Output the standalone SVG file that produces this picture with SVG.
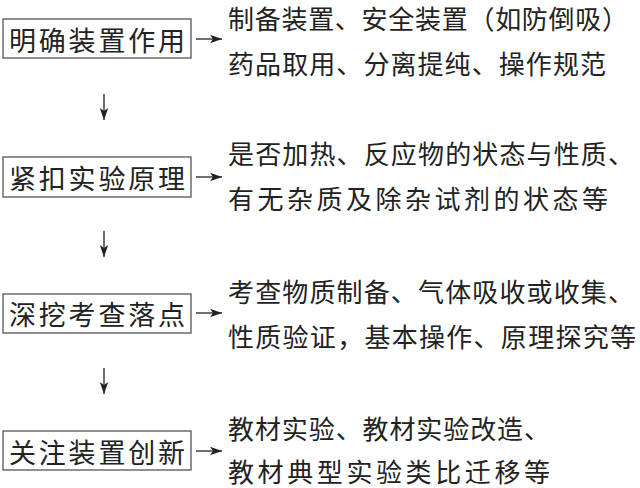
<svg xmlns="http://www.w3.org/2000/svg" width="640" height="488" viewBox="0 0 640 488">
<defs>
<marker id="ah" viewBox="0 0 10 10" refX="10" refY="5" markerWidth="12" markerHeight="12" markerUnits="userSpaceOnUse" orient="auto"><path d="M0,1.5 L10,5 L0,8.5 L2.5,5 Z" fill="#222"/></marker>
<style>
.box{fill:#fff;stroke:#555;stroke-width:1.3}
.t{font-family:"Noto Sans CJK SC",sans-serif;font-size:27px;fill:#222;dominant-baseline:central}
.d{font-family:"Noto Sans CJK SC",sans-serif;font-size:26px;fill:#222;dominant-baseline:central}
.c{stroke:#222;stroke-width:1.3;fill:none;marker-end:url(#ah)}
</style>
</defs>
<rect width="640" height="488" fill="#fff"/>
<g id="n1"><rect class="box" x="3" y="19" width="188" height="39"/><text class="t" x="97" y="39" text-anchor="middle" textLength="176">明确装置作用</text></g>
<g id="n2"><rect class="box" x="3" y="157" width="188" height="40"/><text class="t" x="97" y="177" text-anchor="middle" textLength="176">紧扣实验原理</text></g>
<g id="n3"><rect class="box" x="3" y="294" width="188" height="39"/><text class="t" x="97" y="313" text-anchor="middle" textLength="176">深挖考查落点</text></g>
<g id="n4"><rect class="box" x="3" y="431" width="188" height="39"/><text class="t" x="97" y="451" text-anchor="middle" textLength="176">关注装置创新</text></g>
<g id="d1"><text class="d" x="228" y="17" textLength="400">制备装置、安全装置（如防倒吸）</text><text class="d" x="228" y="62" textLength="378">药品取用、分离提纯、操作规范</text></g>
<g id="d2"><text class="d" x="228" y="152" textLength="406">是否加热、反应物的状态与性质、</text><text class="d" x="228" y="197" textLength="380">有无杂质及除杂试剂的状态等</text></g>
<g id="d3"><text class="d" x="228" y="290" textLength="406">考查物质制备、气体吸收或收集、</text><text class="d" x="228" y="335" textLength="408">性质验证，基本操作、原理探究等</text></g>
<g id="d4"><text class="d" x="228" y="427" textLength="322">教材实验、教材实验改造、</text><text class="d" x="228" y="470" textLength="322">教材典型实验类比迁移等</text></g>
<g id="connectors">
<line class="c" x1="196" y1="39" x2="222" y2="39"/>
<line class="c" x1="196" y1="177" x2="222" y2="177"/>
<line class="c" x1="196" y1="313" x2="222" y2="313"/>
<line class="c" x1="196" y1="451" x2="222" y2="451"/>
<line class="c" x1="104" y1="94" x2="104" y2="120"/>
<line class="c" x1="104" y1="231" x2="104" y2="257"/>
<line class="c" x1="104" y1="368" x2="104" y2="394"/>
</g>
</svg>
